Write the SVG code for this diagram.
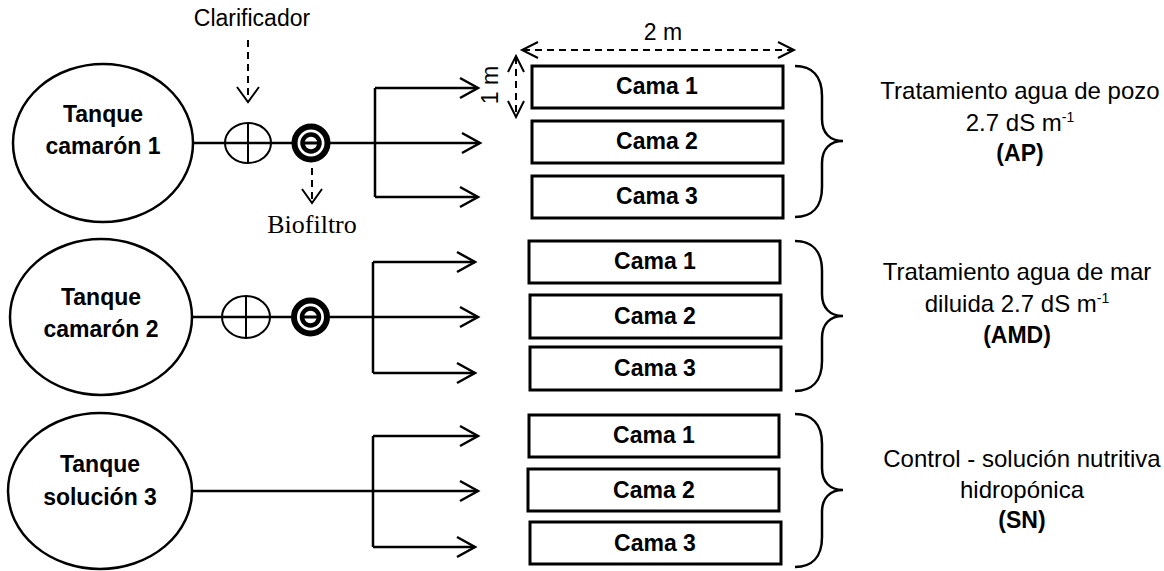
<svg xmlns="http://www.w3.org/2000/svg" width="1164" height="571" viewBox="0 0 1164 571">
<style>
.bg{fill:#fff}
.tank{fill:#fff;stroke:#000;stroke-width:2.5}
.ln{fill:none;stroke:#000;stroke-width:2.5}
.thin{fill:none;stroke:#000;stroke-width:2}
.dash{fill:none;stroke:#000;stroke-width:2;stroke-dasharray:7 5}
.box{fill:#fff;stroke:#000;stroke-width:3}
.b{font-family:"Liberation Sans",Arial,sans-serif;font-weight:bold;font-size:23px;text-anchor:middle;fill:#000}
.r{font-family:"Liberation Sans",Arial,sans-serif;font-size:23px;text-anchor:middle;fill:#000}
.rr{font-family:"Liberation Sans",Arial,sans-serif;font-size:24px;text-anchor:middle;fill:#000}
.s{font-family:"Liberation Serif","Times New Roman",serif;font-size:26px;text-anchor:middle;fill:#000}
.sup{font-size:14px}
</style>
<rect class="bg" x="0" y="0" width="1164" height="571"/>

<g id="connectors">
  <!-- group 1 -->
  <path class="ln" d="M193,143 H375 M375,88 V197 M375,88 H478 M375,197 H478 M375,143 H480"/>
  <path class="ln" d="M460,78 L478,88 L460,98 M462,133 L480,143 L462,153 M460,187 L478,197 L460,207"/>
  <!-- group 2 -->
  <path class="ln" d="M192,317 H373 M373,262 V373 M373,262 H475 M373,373 H475 M373,317 H478"/>
  <path class="ln" d="M457,252 L475,262 L457,272 M460,307 L478,317 L460,327 M457,363 L475,373 L457,383"/>
  <!-- group 3 -->
  <path class="ln" d="M192,491 H373 M373,436 V547 M373,436 H478 M373,547 H475 M373,491 H478"/>
  <path class="ln" d="M460,426 L478,436 L460,446 M460,481 L478,491 L460,501 M457,537 L475,547 L457,557"/>
  <!-- clarificador / biofiltro dashed arrows -->
  <path class="dash" d="M248,40 V101"/>
  <path class="thin" d="M237,87 L248,102 L259,87"/>
  <path class="dash" d="M312,168 V202"/>
  <path class="thin" d="M302,189 L312,203 L322,189"/>
  <!-- dimensions -->
  <path class="dash" d="M523,50 H793"/>
  <path class="thin" d="M538,42 L522,50 L538,58 M778,42 L794,50 L778,58"/>
  <path class="dash" d="M516,57 V116"/>
  <path class="thin" d="M508,72 L516,56 L524,72 M508,101 L516,117 L524,101"/>
  <!-- braces -->
  <path class="ln" d="M795,66 C812,66 822,76 822,96 L822,119 C822,133 830,141 843,141 C830,141 822,149 822,163 L822,187 C822,207 812,217 795,217"/>
  <path class="ln" d="M795,241 C812,241 822,251 822,271 L822,294 C822,308 830,316 843,316 C830,316 822,324 822,338 L822,361 C822,381 812,391 795,391"/>
  <path class="ln" d="M795,414 C812,414 822,424 822,444 L822,468 C822,482 830,490 843,490 C830,490 822,498 822,512 L822,537 C822,557 812,567 795,567"/>
</g>

<g id="tanque1">
  <ellipse class="tank" cx="103" cy="143" rx="90" ry="79"/>
  <text class="b" x="103" y="122">Tanque</text>
  <text class="b" x="103" y="154">camarón 1</text>
</g>
<g id="tanque2">
  <ellipse class="tank" cx="101" cy="317" rx="91" ry="78"/>
  <text class="b" x="101" y="305">Tanque</text>
  <text class="b" x="101" y="337">camarón 2</text>
</g>
<g id="tanque3">
  <ellipse class="tank" cx="100" cy="491" rx="92" ry="78"/>
  <text class="b" x="100" y="472">Tanque</text>
  <text class="b" x="100" y="505">solución 3</text>
</g>

<g id="clarificador1">
  <ellipse class="thin" cx="248" cy="143" rx="23" ry="20"/>
  <path class="thin" d="M248,123 V163"/>
  <text class="r" x="252" y="26">Clarificador</text>
</g>
<g id="biofiltro1">
  <circle cx="311" cy="143" r="16.5" fill="#fff" stroke="#000" stroke-width="6"/>
  <circle cx="311" cy="143" r="8.5" fill="#fff" stroke="#000" stroke-width="4.5"/>
  <path d="M304,143 H318" stroke="#000" stroke-width="3"/>
  <text class="s" x="312" y="233">Biofiltro</text>
</g>
<g id="clarificador2">
  <ellipse class="thin" cx="246" cy="317" rx="24" ry="21"/>
  <path class="thin" d="M246,296 V338"/>
</g>
<g id="biofiltro2">
  <circle cx="310.5" cy="317" r="16.5" fill="#fff" stroke="#000" stroke-width="6"/>
  <circle cx="310.5" cy="317" r="8.5" fill="#fff" stroke="#000" stroke-width="4.5"/>
  <path d="M303.5,317 H317.5" stroke="#000" stroke-width="3"/>
</g>

<g id="g1-cama1"><rect class="box" x="532" y="66" width="251" height="42"/><text class="b" x="657" y="94">Cama 1</text></g>
<g id="g1-cama2"><rect class="box" x="532" y="121" width="251" height="42"/><text class="b" x="657" y="149">Cama 2</text></g>
<g id="g1-cama3"><rect class="box" x="532" y="176" width="251" height="42"/><text class="b" x="657" y="204">Cama 3</text></g>

<g id="g2-cama1"><rect class="box" x="529" y="241" width="251" height="42"/><text class="b" x="655" y="269">Cama 1</text></g>
<g id="g2-cama2"><rect class="box" x="530" y="295" width="251" height="43"/><text class="b" x="655" y="324">Cama 2</text></g>
<g id="g2-cama3"><rect class="box" x="530" y="347" width="251" height="43"/><text class="b" x="655" y="376">Cama 3</text></g>

<g id="g3-cama1"><rect class="box" x="529" y="415" width="250" height="42"/><text class="b" x="654" y="443">Cama 1</text></g>
<g id="g3-cama2"><rect class="box" x="528" y="469" width="251" height="42"/><text class="b" x="654" y="498">Cama 2</text></g>
<g id="g3-cama3"><rect class="box" x="530" y="522" width="251" height="42"/><text class="b" x="655" y="551">Cama 3</text></g>

<g id="dimensiones">
  <text class="r" x="663" y="40">2 m</text>
  <text class="r" transform="translate(498,85) rotate(-90)" x="0" y="0">1 m</text>
</g>

<g id="label-AP">
  <text class="rr" x="1020" y="99">Tratamiento agua de pozo</text>
  <text class="rr" x="1020" y="131">2.7 dS m<tspan class="sup" dy="-9">-1</tspan></text>
  <text class="b" x="1020" y="161">(AP)</text>
</g>
<g id="label-AMD">
  <text class="rr" x="1017" y="280">Tratamiento agua de mar</text>
  <text class="rr" x="1017" y="312">diluida 2.7 dS m<tspan class="sup" dy="-9">-1</tspan></text>
  <text class="b" x="1017" y="343">(AMD)</text>
</g>
<g id="label-SN">
  <text class="rr" x="1022" y="467">Control - solución nutritiva</text>
  <text class="rr" x="1022" y="498">hidropónica</text>
  <text class="b" x="1022" y="528">(SN)</text>
</g>
</svg>
